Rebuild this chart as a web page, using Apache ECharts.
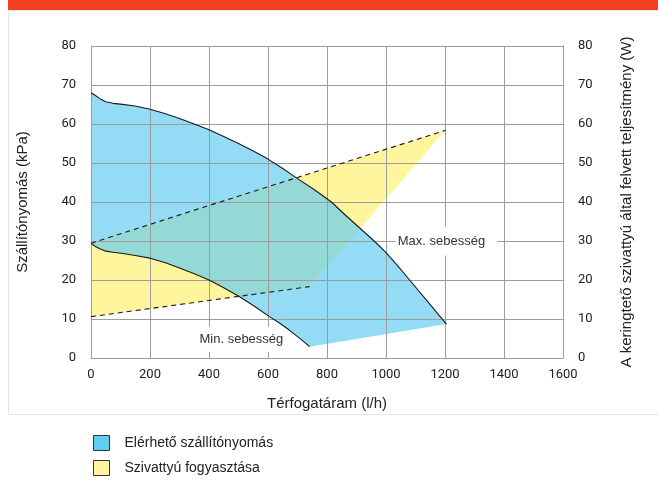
<!DOCTYPE html>
<html><head><meta charset="utf-8">
<script src="https://cdn.jsdelivr.net/npm/echarts@6/dist/echarts.min.js"></script>
<style>html,body{margin:0;padding:0;background:#fff}#c{width:658px;height:484px}</style>
</head><body><div id="c"></div>
<script>
// Flow rate (l/h) vs. pressure (kPa) / power (W)
const xAxisName = 'Térfogatáram (l/h)';
const yLeftName = 'Szállítónyomás (kPa)';
const yRightName = 'A keringtető szivattyú által felvett teljesítmény (W)';
const legendNames = ['Elérhető szállítónyomás', 'Szivattyú fogyasztása'];

// pressure curves [flow, kPa]
const maxPressure = [[0,68],[15,67.3],[30,66.5],[50,65.7],[75,65.3],[100,65.1],[150,64.6],[200,63.8],[250,62.7],[300,61.4],[350,60.0],[400,58.5],[450,56.8],[500,55],[550,53.1],[600,51],[650,48.6],[700,46],[760,43],[815,40],[860,36.8],[910,33.4],[960,30],[1000,27],[1040,23.6],[1080,20],[1140,14.6],[1205,8.7]];
const minPressure = [[0,29.4],[15,28.6],[30,28.0],[50,27.4],[75,27.1],[108,26.8],[150,26.3],[200,25.6],[250,24.5],[300,23.1],[350,21.6],[400,20],[450,18],[504,15.7],[555,13.2],[605,10.6],[640,8.9],[673,7.1],[710,4.9],[741,2.9]];
// power curves [flow, W]
const maxPower = [[0,29.4],[400,39.1],[800,48.7],[1202,58.4]];
const minPower = [[0,10.6],[741,18.3]];

const annotations = [
  {text:'Max. sebesség', x:1033, y:30, pad:[8,12,8,2]},
  {text:'Min. sebesség', x:344, y:4.8, pad:[6,2,6,7]}
];

const GRID = '#9c9c9c';
const TXT = '#222';
const FONT = '"Liberation Sans", Arial, sans-serif';

function pressurePolygon(){ return maxPressure.concat(minPressure.slice().reverse()); }
function powerPolygon(){ return maxPower.concat(minPower.slice().reverse()); }

function polyRender(getPts, color, opacity){
  return function(params, api){
    if (params.dataIndex !== 0) return;
    const pts = getPts().map(p => api.coord(p));
    return {type:'polygon', shape:{points:pts}, style:{fill:color, opacity:opacity}, silent:true};
  };
}
const plain = v => String(v);

const chart = echarts.init(document.getElementById('c'), null, {renderer:'canvas'});
chart.setOption({
  animation:false,
  backgroundColor:'#fff',
  textStyle:{fontFamily:FONT},
  graphic:[
    {type:'rect', shape:{x:8, y:0, width:660, height:10}, style:{fill:'#f2401f'}, z:0},
    {type:'rect', shape:{x:8.5, y:10.5, width:660, height:404}, style:{fill:'none', stroke:'#e6e6e6', lineWidth:1}, z:0}
  ],
  grid:{left:91, right:95, top:46, bottom:126},
  legend:[
    {left:88, top:430, itemWidth:16, itemHeight:15, icon:'rect', selectedMode:false,
     textStyle:{fontSize:14, color:TXT, fontFamily:FONT, padding:[0,0,0,10]},
     data:[{name:legendNames[0], itemStyle:{color:'#62ccf2', borderColor:'#333', borderWidth:1, opacity:1}}]},
    {left:88, top:455, itemWidth:16, itemHeight:15, icon:'rect', selectedMode:false,
     textStyle:{fontSize:14, color:TXT, fontFamily:FONT, padding:[0,0,0,10]},
     data:[{name:legendNames[1], itemStyle:{color:'#fff59c', borderColor:'#333', borderWidth:1, opacity:1}}]}
  ],
  xAxis:{
    type:'value', min:0, max:1600, interval:200, z:3,
    name:xAxisName, nameLocation:'middle', nameGap:38,
    nameTextStyle:{fontSize:15, color:TXT, fontFamily:FONT},
    axisLine:{show:true, lineStyle:{color:GRID}},
    axisTick:{show:false},
    axisLabel:{fontSize:13, color:TXT, margin:10, fontFamily:'Roboto', formatter:plain},
    splitLine:{show:true, lineStyle:{color:GRID, width:1}}
  },
  yAxis:[
    {
      type:'value', min:0, max:80, interval:10, position:'left', z:3,
      name:yLeftName, nameLocation:'middle', nameRotate:90, nameGap:61,
      nameTextStyle:{fontSize:15, color:TXT, fontFamily:FONT},
      axisLine:{show:true, lineStyle:{color:GRID}},
      axisTick:{show:false},
      axisLabel:{fontSize:13, color:TXT, margin:15, fontFamily:'Roboto', formatter:plain},
      splitLine:{show:true, lineStyle:{color:GRID, width:1}}
    },
    {
      type:'value', min:0, max:80, interval:10, position:'right', z:3,
      name:yRightName, nameLocation:'middle', nameRotate:90, nameGap:56,
      nameTextStyle:{fontSize:15, color:TXT, fontFamily:FONT},
      axisLine:{show:true, lineStyle:{color:GRID}},
      axisTick:{show:false},
      axisLabel:{fontSize:13, color:TXT, margin:15, fontFamily:'Roboto', formatter:plain},
      splitLine:{show:false}
    }
  ],
  series:[
    {name:legendNames[1], type:'custom', yAxisIndex:1, z:1, data:[0],
     itemStyle:{color:'#fff59c'},
     renderItem:polyRender(powerPolygon, '#fff59c', 1)},
    {name:legendNames[0], type:'custom', yAxisIndex:0, z:1, data:[0],
     itemStyle:{color:'#62ccf2'},
     renderItem:polyRender(pressurePolygon, '#62ccf2', 0.68)},
    {type:'line', yAxisIndex:0, z:6, data:maxPressure, symbol:'none', smooth:false, silent:true,
     lineStyle:{color:'#1a1a1a', width:1.1}},
    {type:'line', yAxisIndex:0, z:6, data:minPressure, symbol:'none', smooth:false, silent:true,
     lineStyle:{color:'#1a1a1a', width:1.1}},
    {type:'line', yAxisIndex:1, z:6, data:maxPower, symbol:'none', silent:true,
     lineStyle:{color:'#1a1a1a', width:1.1, type:[5,4]}},
    {type:'line', yAxisIndex:1, z:6, data:minPower, symbol:'none', silent:true,
     lineStyle:{color:'#1a1a1a', width:1.1, type:[5,4]}},
    {type:'custom', z:5, yAxisIndex:0, silent:true,
     data:annotations.map(a => [a.x, a.y]),
     renderItem:function(params, api){
       const a = annotations[params.dataIndex];
       const p = api.coord([a.x, a.y]);
       return {type:'text', x:p[0], y:p[1],
         style:{text:a.text, fill:'#333', fontSize:13, fontFamily:FONT,
           align:'left', verticalAlign:'middle', backgroundColor:'#fff', padding:a.pad}};
     }}
  ]
});
</script>
</body></html>
